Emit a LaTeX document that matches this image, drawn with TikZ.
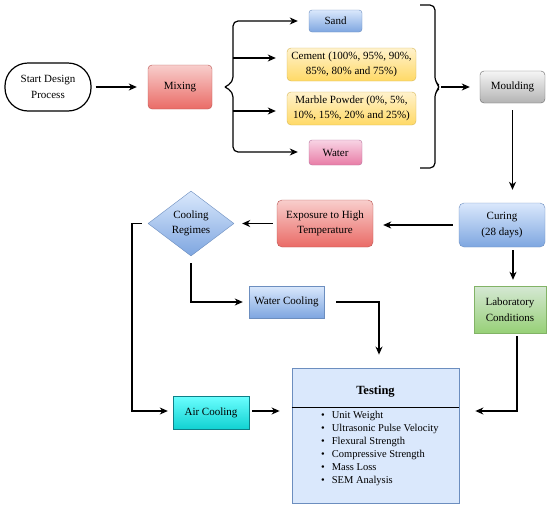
\documentclass[tikz,border=0pt]{standalone}
\usepackage{fontspec}
\setmainfont{Liberation Serif}
\usetikzlibrary{arrows.meta,shapes.geometric}
\definecolor{blueline}{HTML}{6C8EBF}
\definecolor{bluetop}{HTML}{DAE8FC}
\definecolor{bluebot}{HTML}{7EA6E0}
\definecolor{redline}{HTML}{B85450}
\definecolor{redtop}{HTML}{F8CECC}
\definecolor{redbot}{HTML}{EA6B66}
\definecolor{grayline}{HTML}{666666}
\definecolor{graytop}{HTML}{F5F5F5}
\definecolor{graybot}{HTML}{B3B3B3}
\definecolor{yellowline}{HTML}{D6B656}
\definecolor{yellowtop}{HTML}{FFF2CC}
\definecolor{yellowbot}{HTML}{FFD966}
\definecolor{pinkline}{HTML}{B5739D}
\definecolor{pinktop}{HTML}{F8D4E4}
\definecolor{pinkbot}{HTML}{E87CA6}
\definecolor{cyanline}{HTML}{0E8088}
\definecolor{cyantop}{HTML}{6CFFFF}
\definecolor{cyanbot}{HTML}{11D2D2}
\definecolor{greenline}{HTML}{82B366}
\definecolor{greentop}{HTML}{D5E8D4}
\definecolor{greenbot}{HTML}{97D077}

\tikzset{
    box/.style={draw, align=center, inner sep=1pt, font=\fontsize{11}{15.5}\selectfont},
    bluebox/.style={box, draw=blueline, top color=bluetop, bottom color=bluebot},
    redbox/.style={box, draw=redline, top color=redtop, bottom color=redbot},
    graybox/.style={box, draw=grayline, top color=graytop, bottom color=graybot},
    yellowbox/.style={box, draw=yellowline, top color=yellowtop, bottom color=yellowbot},
    pinkbox/.style={box, draw=pinkline, top color=pinktop, bottom color=pinkbot},
    cyanbox/.style={box, draw=cyanline, top color=cyantop, bottom color=cyanbot},
    greenbox/.style={box, draw=greenline, top color=greentop, bottom color=greenbot},
    arr/.style={-{Stealth[length=8pt,width=7pt,inset=2.5pt]}, line width=1.2pt},
    brace/.style={line width=1.2pt, rounded corners=5pt}
}

\begin{document}
\begin{tikzpicture}[x=1pt, y=-1pt]
    \useasboundingbox (0,0) rectangle (550,509);
    \node [box, line width=1.2pt, rounded corners=23pt, minimum width=86pt, minimum height=48pt] (start) at (48,87) {Start Design\\Process};
    \node [redbox, rounded corners=4pt, minimum width=64pt, minimum height=44pt] (mix) at (180,87) {Mixing};
    \node [bluebox, rounded corners=3pt, minimum width=53pt, minimum height=22pt] (sand) at (335.5,21) {Sand};
    \node [yellowbox, rounded corners=4pt, minimum width=129pt, minimum height=33pt] (cement) at (351.5,64.5) {Cement (100\%, 95\%, 90\%,\\85\%, 80\% and 75\%)};
    \node [yellowbox, rounded corners=4pt, minimum width=129pt, minimum height=33pt] (marble) at (351.5,108.5) {Marble Powder (0\%, 5\%,\\10\%, 15\%, 20\% and 25\%)};
    \node [pinkbox, rounded corners=3pt, minimum width=53pt, minimum height=25pt] (water) at (335.5,152.5) {Water};
    \node [graybox, rounded corners=4pt, minimum width=65pt, minimum height=32pt] (mould) at (512.5,87) {Moulding};
    \node [bluebox, rounded corners=5pt, minimum width=86pt, minimum height=44pt] (curing) at (502,225) {Curing\\(28 days)};
    \node [redbox, rounded corners=5pt, minimum width=96pt, minimum height=47pt] (expo) at (325,223.5) {Exposure to High\\Temperature};
    \node [bluebox, diamond, aspect=1.32, inner sep=0pt, minimum width=86pt, minimum height=65pt] (regime) at (191,223.5) {Cooling\\Regimes};
    \node [bluebox, minimum width=75pt, minimum height=32pt] (wcool) at (286.5,302) {Water Cooling};
    \node [cyanbox, minimum width=76pt, minimum height=33pt] (acool) at (211,412.5) {Air Cooling};
    \node [greenbox, minimum width=72pt, minimum height=47pt] (lab) at (510,309.5) {Laboratory\\Conditions};
    \node [draw=blueline, fill=bluetop, line width=0.8pt, minimum width=167pt, minimum height=135pt] (test) at (375.5,435.5) {};
    \node [font=\fontsize{12.5}{14}\selectfont\bfseries] (testtitle) at (375.5,392) {Testing};
    \draw [line width=1pt] (test.west |- 0,407) -- (test.east |- 0,407);
    \node [anchor=north west, inner sep=0pt, align=left, font=\fontsize{10.5}{13}\selectfont] (testlist) at (321,411.5)
        {\textbullet\hspace{7pt}Unit Weight\\\textbullet\hspace{7pt}Ultrasonic Pulse Velocity\\\textbullet\hspace{7pt}Flexural Strength\\\textbullet\hspace{7pt}Compressive Strength\\\textbullet\hspace{7pt}Mass Loss\\\textbullet\hspace{7pt}SEM Analysis};

    \coordinate (lbtip) at (225,87);
    \coordinate (lbtop) at (233,21);
    \coordinate (lbbot) at (233,152);
    \coordinate (lbA) at (233,58);
    \coordinate (lbB) at (233,111);
    \draw [brace, arr] (lbtip) -- (233,82) -- (lbtop) -- ([xshift=-11pt]lbtop -| sand.west);
    \draw [brace, arr] (lbtip) -- (233,92) -- (lbbot) -- ([xshift=-11pt]lbbot -| water.west);
    \draw [arr] (lbA) -- ([xshift=-11pt]lbA -| cement.west);
    \draw [arr] (lbB) -- ([xshift=-11pt]lbB -| marble.west);
    \coordinate (rbtip) at (441,87);
    \draw [brace] (420,5) -- (435,5) -- (435,82) -- (rbtip) -- (435,92) -- (435,168) -- (420,168);
    \draw [arr] (rbtip) -- ([xshift=-10pt]mould.west);

    \draw [arr] ([xshift=4pt]start.east) -- ([xshift=-11pt]mix.west);
    \draw [arr] ([yshift=-7pt]mould.south) -- ([yshift=13pt]mould.south |- curing.north);
    \draw [arr] ([xshift=-6pt]curing.west) -- ([xshift=10pt]curing.west -| expo.east);
    \draw [arr] ([xshift=-4pt]expo.west) -- ([xshift=8pt]regime.east);
    \draw [arr] ([xshift=-6pt]regime.west) -- (132,223.5) -- (132,411) -- ([xshift=-5pt]acool.west |- 0,411);
    \draw [arr] ([yshift=-7pt]regime.south) -- (191,302) -- ([xshift=-6pt]wcool.west);
    \draw [arr] ([xshift=12pt]wcool.east) -- (379,302) -- ([yshift=13pt]test.north -| 379,0);
    \draw [arr] ([xshift=3pt]acool.east |- 0,411) -- ([xshift=-12pt]test.west |- 0,411);
    \draw [arr] (513,250) -- ([yshift=6pt]lab.north -| 513,0);
    \draw [arr] ([yshift=-3pt]lab.south -| 517,0) -- (517,411) -- ([xshift=16pt]test.east |- 0,411);
\end{tikzpicture}
\end{document}
